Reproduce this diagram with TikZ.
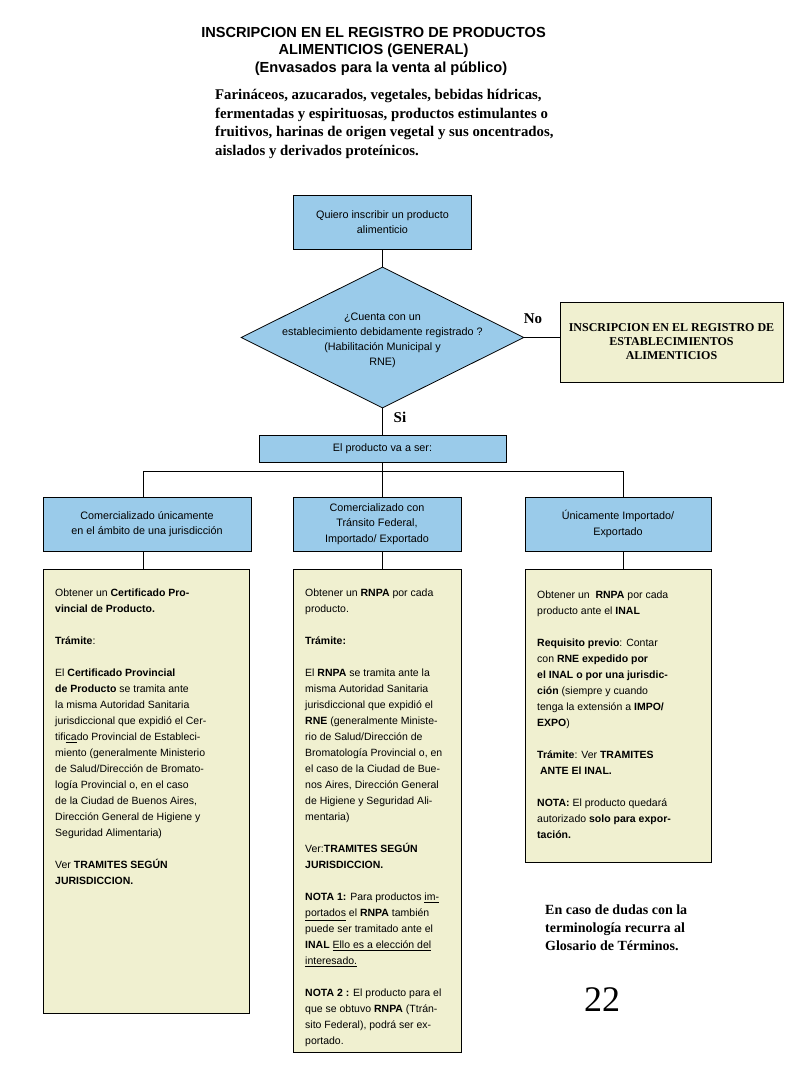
\documentclass[tikz,border=0pt]{standalone}
\usepackage{fontspec}
\setmainfont{Liberation Serif}
\setsansfont{Liberation Sans}
\usetikzlibrary{shapes.geometric}
\definecolor{celeste}{RGB}{154,203,234}
\definecolor{crema}{RGB}{240,240,208}

\begin{document}
\begin{tikzpicture}[x=1pt,y=-1pt,
		linea/.style={line width=0.8pt},
		caja/.style={draw,line width=0.8pt,fill=celeste,inner sep=0pt,align=center,font=\sffamily\fontsize{10.8}{15.5}\selectfont},
		rombo/.style={diamond,draw,line width=0.8pt,fill=celeste,inner sep=0pt,minimum width=283pt,minimum height=141pt},
		nota/.style={draw,line width=0.8pt,fill=crema,inner sep=0pt,anchor=north west},
		texto/.style={anchor=north west,inner sep=0pt,align=left,font=\sffamily\fontsize{10.5}{16}\selectfont},
		serifa/.style={inner sep=0pt,font=\rmfamily\bfseries\fontsize{14}{18}\selectfont}]
						\useasboundingbox[fill=white] (0,0) rectangle (800,1066);
						
						\node[anchor=north,inner sep=0pt,align=center,font=\sffamily\bfseries\fontsize{14.6}{17}\selectfont] (titulo) at (373.5,27.5) {INSCRIPCION EN EL REGISTRO DE PRODUCTOS\\ALIMENTICIOS (GENERAL)};
						\node[inner sep=0pt,font=\sffamily\bfseries\fontsize{14.6}{17}\selectfont] (subtitulo) at (381,69) {(Envasados para la venta al público)};
						\node[serifa,anchor=north west,align=left,font=\rmfamily\bfseries\fontsize{14.8}{18.7}\selectfont] (rubros) at (215,89) {Farináceos, azucarados, vegetales, bebidas hídricas,\\fermentadas y espirituosas, productos estimulantes o\\fruitivos, harinas de origen vegetal y sus oncentrados,\\aislados y derivados proteínicos.};
						
						\node[caja,minimum width=178pt,minimum height=54pt] (inicio) at (382.5,222) {Quiero inscribir un producto\\alimenticio};
						\node[rombo] (pregunta) at (382.5,337.5) {};
						\node[inner sep=0pt,align=center,font=\sffamily\fontsize{10.8}{15}\selectfont] (preguntatxt) at (382.5,340.5) {¿Cuenta con un\\establecimiento debidamente registrado ?\\(Habilitación Municipal y\\RNE)};
						\node[caja,fill=crema,minimum width=223pt,minimum height=80pt,font=\rmfamily\bfseries\fontsize{12}{14}\selectfont] (registro) at (671.5,342) {INSCRIPCION EN EL REGISTRO DE\\ESTABLECIMIENTOS\\ALIMENTICIOS};
						\node[caja,minimum width=247pt,minimum height=27pt] (tipo) at (382.5,448.5) {El producto va a ser:};
						
						\node[caja,minimum width=208pt,minimum height=54pt] (local) at (147,524) {Comercializado únicamente\\en el ámbito de una jurisdicción};
						\node[caja,minimum width=168pt,minimum height=54pt] (federal) at (377,524) {Comercializado con\\Tránsito Federal,\\Importado/ Exportado};
						\node[caja,minimum width=186pt,minimum height=54pt] (impo) at (618,524) {Únicamente Importado/\\Exportado};
						
						\node[nota,minimum width=206pt,minimum height=444pt] (notalocal) at (43,569) {};
						\node[nota,minimum width=168pt,minimum height=483pt] (notafederal) at (293,569) {};
						\node[nota,minimum width=186pt,minimum height=293pt] (notaimpo) at (525,569) {};
						
						\coordinate (rama) at (382.5,471);
						\coordinate (ramaI) at (143,471);
						\coordinate (ramaD) at (623,471);
						
						\draw[linea] (inicio.south) -- (pregunta.north);
						\draw[linea] (pregunta.east) -- (pregunta.east -| registro.west);
						\draw[linea] (pregunta.south) -- (tipo.north);
						\draw[linea] (tipo.south) -- (rama);
						\draw[linea] (ramaI) -- (ramaD);
						\draw[linea] (ramaI) -- (ramaI |- local.north);
						\draw[linea] (rama) -- (rama |- federal.north);
						\draw[linea] (ramaD) -- (ramaD |- impo.north);
						\draw[linea] (ramaI |- local.south) -- (ramaI |- notalocal.north);
						\draw[linea] (rama |- federal.south) -- (rama |- notafederal.north);
						\draw[linea] (ramaD |- impo.south) -- (ramaD |- notaimpo.north);
						
						\node[serifa,font=\rmfamily\bfseries\fontsize{15}{16}\selectfont] (no) at (533,319) {No};
						\node[serifa,font=\rmfamily\bfseries\fontsize{15}{16}\selectfont] (si) at (400,417) {Si};
						
						\node[texto] (txtlocal) at (55,589) {Obtener un \textbf{Certificado Pro-}\\\textbf{vincial de Producto.}\\[16pt]\textbf{Trámite}:\\[16pt]El \textbf{Certificado Provincial}\\\textbf{de Producto} se tramita ante\\la misma Autoridad Sanitaria\\jurisdiccional que expidió el Cer-\\tifi\underline{ca}do Provincial de Estableci-\\miento (generalmente Ministerio\\de Salud/Dirección de Bromato-\\logía Provincial o, en el caso\\de la Ciudad de Buenos Aires,\\Dirección General de Higiene y\\Seguridad Alimentaria)\\[16pt]Ver \textbf{TRAMITES SEGÚN}\\\textbf{JURISDICCION.}};
						\node[texto] (txtfederal) at (305,589) {Obtener un \textbf{RNPA} por cada\\producto.\\[16pt]\textbf{Trámite:}\\[16pt]El \textbf{RNPA} se tramita ante la\\misma Autoridad Sanitaria\\jurisdiccional que expidió el\\\textbf{RNE} (generalmente Ministe-\\rio de Salud/Dirección de\\Bromatología Provincial o, en\\el caso de la Ciudad de Bue-\\nos Aires, Dirección General\\de Higiene y Seguridad Ali-\\mentaria)\\[16pt]Ver:\textbf{TRAMITES SEGÚN}\\\textbf{JURISDICCION.}\\[16pt]\textbf{NOTA 1:} Para productos \underline{im-}\\\underline{portados} el \textbf{RNPA} también\\puede ser tramitado ante el\\\textbf{INAL} \underline{Ello es a elección del}\\\underline{interesado.}\\[16pt]\textbf{NOTA 2 :} El producto para el\\que se obtuvo \textbf{RNPA} (Ttrán-\\sito Federal), podrá ser ex-\\portado.};
						\node[texto] (txtimpo) at (537,591) {Obtener un \ \textbf{RNPA} por cada\\producto ante el \textbf{INAL}\\[16pt]\textbf{Requisito previo}: Contar\\con \textbf{RNE expedido por}\\\textbf{el INAL o por una jurisdic-}\\\textbf{ción} (siempre y cuando\\tenga la extensión a \textbf{IMPO/}\\\textbf{EXPO})\\[16pt]\textbf{Trámite}: Ver \textbf{TRAMITES}\\\ \textbf{ANTE El INAL.}\\[16pt]\textbf{NOTA:} El producto quedará\\autorizado \textbf{solo para expor-}\\\textbf{tación.}};
						
						\node[serifa,anchor=north west,align=left] (glosario) at (545,905) {En caso de dudas con la\\terminología recurra al\\Glosario de Términos.};
						\node[inner sep=0pt,font=\rmfamily\fontsize{36}{40}\selectfont] (pagina) at (602,1000) {22};
					\end{tikzpicture}
\end{document}
